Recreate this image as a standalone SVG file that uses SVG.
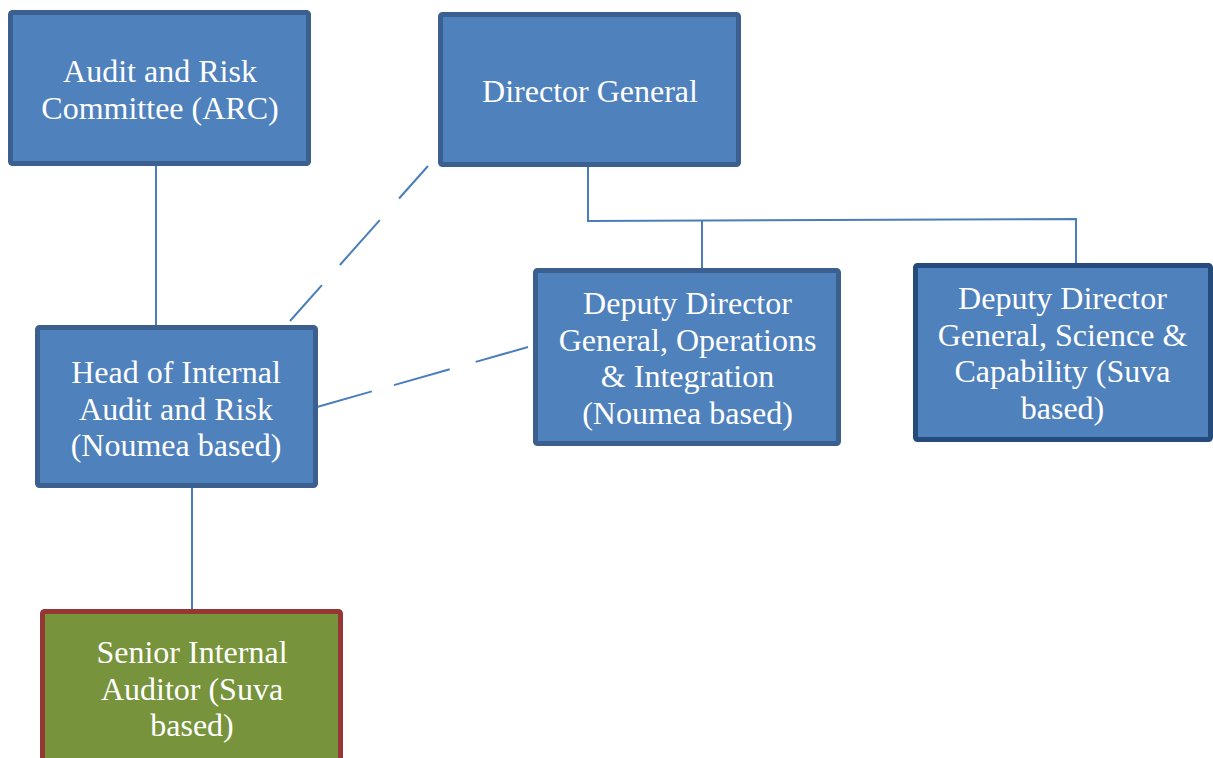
<svg xmlns="http://www.w3.org/2000/svg" width="1213" height="758" viewBox="0 0 1213 758">
<style>
.box{fill:#4f81bd;stroke:#3b5f8e;stroke-width:5;}
.box2{fill:#4f81bd;stroke:#254a7c;stroke-width:5;}
.green{fill:#77933c;stroke:#953735;stroke-width:5;}
.t{font-family:"Liberation Serif","DejaVu Serif",serif;font-size:32px;fill:#ffffff;text-anchor:middle;}
.c{fill:none;stroke:#4a7ebb;stroke-width:2;}
</style>
<rect width="1213" height="758" fill="#ffffff"/>
<g id="connectors">
<line class="c" x1="156" y1="166" x2="156" y2="326"/>
<line class="c" x1="192" y1="488" x2="192" y2="610"/>
<polyline class="c" points="588,166 588,221 1076,219 1076,265"/>
<line class="c" x1="702" y1="221" x2="702" y2="268"/>
<line class="c" x1="290" y1="321" x2="428" y2="166" stroke-dasharray="48 27 60 29 60"/>
<line class="c" x1="317" y1="407" x2="528" y2="347" stroke-dasharray="57 23 58 27 60"/>
</g>
<g id="arc">
<rect class="box" x="10.5" y="12.5" width="298" height="151" rx="2"/>
<text class="t" x="160" y="82">Audit and Risk</text>
<text class="t" x="160" y="119">Committee (ARC)</text>
</g>
<g id="dg">
<rect class="box" x="440.5" y="14.5" width="298" height="150" rx="2"/>
<text class="t" x="590" y="102">Director General</text>
</g>
<g id="head">
<rect class="box" x="37.5" y="327.5" width="278" height="158" rx="2"/>
<text class="t" x="176" y="383">Head of Internal</text>
<text class="t" x="176" y="419.5">Audit and Risk</text>
<text class="t" x="176" y="456">(Noumea based)</text>
</g>
<g id="ddg-ops">
<rect class="box" x="535.5" y="270.5" width="303" height="173" rx="2"/>
<text class="t" x="687.5" y="314">Deputy Director</text>
<text class="t" x="687.5" y="350.5">General, Operations</text>
<text class="t" x="687.5" y="387">&amp; Integration</text>
<text class="t" x="687.5" y="423.5">(Noumea based)</text>
</g>
<g id="ddg-sci">
<rect class="box2" x="915.5" y="265.5" width="295" height="174" rx="2"/>
<text class="t" x="1062.5" y="309">Deputy Director</text>
<text class="t" x="1062.5" y="345.5">General, Science &amp;</text>
<text class="t" x="1062.5" y="382">Capability (Suva</text>
<text class="t" x="1062.5" y="418.5">based)</text>
</g>
<g id="senior">
<rect class="green" x="42.5" y="611.5" width="298" height="170" rx="2"/>
<text class="t" x="192" y="663">Senior Internal</text>
<text class="t" x="192" y="699.5">Auditor (Suva</text>
<text class="t" x="192" y="736">based)</text>
</g>
</svg>
